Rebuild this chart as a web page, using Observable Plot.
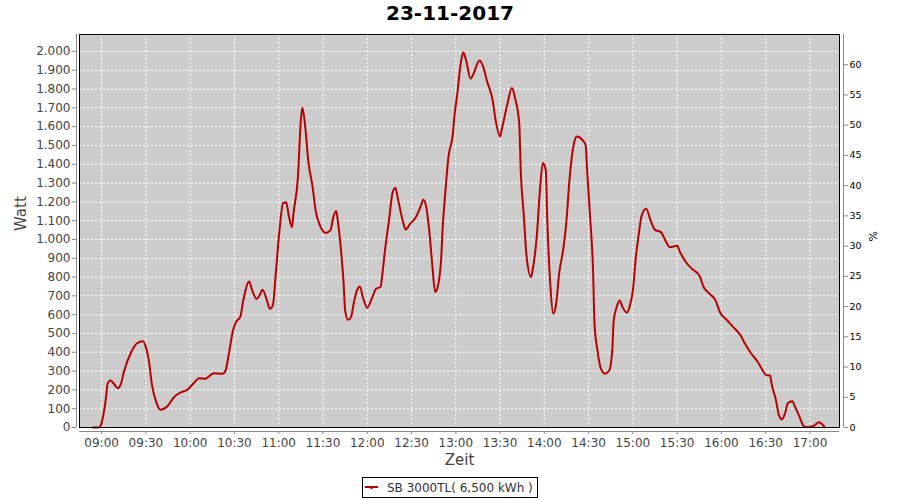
<!DOCTYPE html>
<html><head><meta charset="utf-8">
<script src="https://cdn.jsdelivr.net/npm/d3@7"></script>
<script src="https://cdn.jsdelivr.net/npm/@observablehq/plot@0.6"></script>
<style>
body{margin:0;background:#fff;font-family:"DejaVu Sans",sans-serif;}
#wrap{position:relative;width:900px;height:500px;overflow:hidden;background:#fff}
#title{position:absolute;left:0;top:0;width:900px;text-align:center;font-weight:bold;font-size:20px;line-height:26px;color:#000}
#chart{position:absolute;left:0;top:30px}
#legend{position:absolute;left:362px;top:477px;width:176px;height:21px;box-sizing:border-box;border:1px solid #000;display:flex;align-items:center;font-size:12px;color:#333;background:#fff;white-space:nowrap}
#legend svg{margin-left:2px}
#legend span{margin-left:9px}
</style></head>
<body><div id="wrap"><div id="title"></div><div id="chart"></div><div id="legend"></div></div>
<script>
const chartTitle = "23-11-2017";
const seriesName = "SB 3000TL( 6,500 kWh )";
const seriesColor = "#b80000";
const yLabel = "Watt", xLabel = "Zeit", y2Label = "%";
const xDomain = ["08:45", "17:20"];
const yMax = 2090, pctMax = 65;

const times = ["08:54","08:58","08:59","09:01","09:03","09:04","09:06","09:08","09:11","09:13","09:15","09:20","09:24","09:28","09:30","09:32","09:34","09:37","09:40","09:45","09:49","09:54","09:58","10:03","10:06","10:10","10:16","10:22","10:24","10:26","10:29","10:31","10:34","10:36","10:40","10:42","10:45","10:47","10:49","10:52","10:54","10:56","10:58","11:00","11:03","11:05","11:07","11:09","11:10","11:13","11:15","11:16","11:18","11:20","11:23","11:25","11:28","11:32","11:35","11:37","11:39","11:40","11:42","11:44","11:45","11:47","11:49","11:51","11:53","11:55","11:57","12:00","12:03","12:06","12:09","12:10","12:12","12:15","12:17","12:19","12:21","12:24","12:26","12:29","12:33","12:36","12:38","12:40","12:42","12:44","12:46","12:47","12:50","12:51","12:53","12:55","12:58","12:59","13:01","13:03","13:05","13:07","13:10","13:12","13:16","13:19","13:21","13:25","13:27","13:30","13:31","13:35","13:38","13:40","13:43","13:44","13:46","13:48","13:51","13:52","13:55","13:57","13:59","14:01","14:02","14:04","14:06","14:08","14:10","14:13","14:15","14:17","14:20","14:22","14:26","14:28","14:29","14:31","14:33","14:34","14:36","14:38","14:41","14:44","14:46","14:47","14:49","14:51","14:53","14:56","14:58","15:00","15:02","15:04","15:06","15:09","15:12","15:15","15:19","15:22","15:25","15:30","15:32","15:36","15:40","15:45","15:48","15:52","15:56","15:59","16:04","16:08","16:13","16:16","16:20","16:24","16:28","16:30","16:33","16:34","16:37","16:39","16:41","16:43","16:45","16:48","16:50","16:53","16:56","16:59","17:03","17:06","17:09","17:10"];
const watts = [0,0,5,60,161,232,250,235,209,230,294,400,448,459,427,356,232,135,95,117,161,188,200,241,262,259,289,286,303,383,516,560,590,676,777,729,684,702,732,676,631,649,817,1004,1193,1198,1119,1065,1137,1330,1633,1700,1597,1420,1278,1154,1074,1035,1048,1119,1151,1101,959,764,622,573,587,667,729,750,693,637,684,738,747,800,941,1119,1243,1275,1207,1101,1053,1083,1119,1172,1211,1172,1048,870,720,729,888,1048,1261,1438,1562,1651,1775,1916,1996,1952,1855,1881,1952,1908,1846,1739,1633,1548,1580,1722,1805,1757,1615,1367,1137,906,800,835,1030,1261,1406,1367,1101,764,605,658,817,959,1101,1314,1509,1548,1527,1500,1367,1119,835,552,410,321,286,303,410,569,640,676,640,610,650,729,906,1030,1128,1163,1101,1051,1039,995,959,966,932,879,844,809,746,711,676,613,569,534,489,445,395,356,303,280,277,232,144,64,43,73,129,140,108,55,5,2,11,28,11,0];

const wattTicks = [0,100,200,300,400,500,600,700,800,900,1000,1100,1200,1300,1400,1500,1600,1700,1800,1900,2000];
const pctTicks = [0,5,10,15,20,25,30,35,40,45,50,55,60];
const timeTicks = ["09:00","09:30","10:00","10:30","11:00","11:30","12:00","12:30","13:00","13:30","14:00","14:30","15:00","15:30","16:00","16:30","17:00"];

const day = s => { const [h, m] = s.split(":").map(Number); return new Date(Date.UTC(2017, 10, 23, h, m)); };
const data = times.map((t, i) => ({t: day(t), w: watts[i]}));
const de = d3.formatLocale({decimal: ",", thousands: ".", grouping: [3], currency: ["", "€"]});
const fmtW = de.format(",d");

document.getElementById("title").textContent = chartTitle;

const plot = Plot.plot({
  width: 900, height: 440,
  marginTop: 4, marginBottom: 43, marginLeft: 79, marginRight: 61,
  style: {fontFamily: "DejaVu Sans", fontSize: "12px", background: "#fff"},
  x: {type: "utc", domain: [day(xDomain[0]), day(xDomain[1])]},
  y: {domain: [0, yMax]},
  marks: [
    Plot.frame({fill: "#cccccc", stroke: null}),
    Plot.gridX(timeTicks.map(day), {stroke: "#fff", strokeOpacity: 1, strokeDasharray: "2,2"}),
    Plot.gridY(wattTicks, {stroke: "#fff", strokeOpacity: 1, strokeDasharray: "2,2"}),
    Plot.line(data, {x: "t", y: "w", stroke: seriesColor, strokeWidth: 2, curve: "monotone-x"}),
    Plot.frame({stroke: "#000", strokeWidth: 1}),
    Plot.ruleX([day(xDomain[0])], {dx: -3, stroke: "#888"}),
    Plot.ruleX([day(xDomain[1])], {dx: 4, stroke: "#888"}),
    Plot.ruleY([0], {dy: 4, stroke: "#888"}),
    Plot.axisY(wattTicks, {anchor: "left", tickFormat: fmtW, tickSize: 4, tickPadding: 2, dx: -3, label: null, stroke: "#888", fill: "#444", fontSize: 12}),
    Plot.axisY(pctTicks.map(p => p * yMax / pctMax), {anchor: "right", tickFormat: w => String(Math.round(w * pctMax / yMax)), tickSize: 4, tickPadding: 2, dx: 4, label: null, stroke: "#888", fill: "#000", fontSize: 9.5}),
    Plot.axisX(timeTicks.map(day), {anchor: "bottom", tickFormat: d3.utcFormat("%H:%M"), tickSize: 3, tickPadding: 4, dy: 4, label: null, stroke: "#888", fill: "#444", fontSize: 12}),
    Plot.text([yLabel], {text: d => d, frameAnchor: "left", dx: -58, rotate: -90, fontSize: 15, fill: "#444"}),
    Plot.text([xLabel], {text: d => d, frameAnchor: "bottom", lineAnchor: "middle", dy: 33, fontSize: 15, fill: "#444"}),
    Plot.text([y2Label], {text: d => d, frameAnchor: "right", dx: 34, rotate: -90, fontSize: 11, fill: "#000"})
  ]
});
document.getElementById("chart").appendChild(plot);

const legend = document.getElementById("legend");
legend.innerHTML = `<svg width="13" height="8"><line x1="0" y1="3" x2="13" y2="3" stroke="${seriesColor}" stroke-width="2"/><rect x="5.5" y="3" width="2" height="2" fill="${seriesColor}"/></svg>`;
const sp = document.createElement("span");
sp.textContent = seriesName;
legend.appendChild(sp);
</script>
</body></html>
